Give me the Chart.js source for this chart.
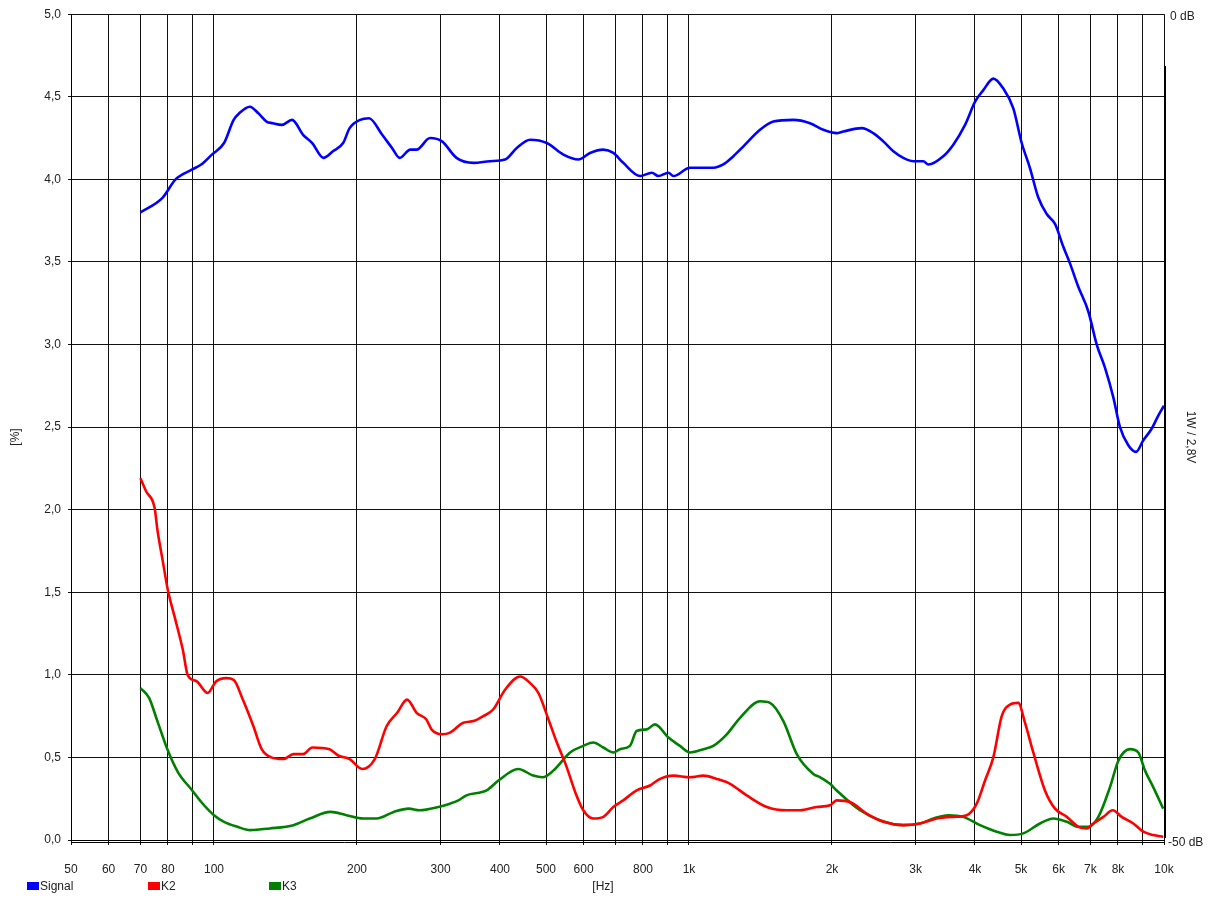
<!DOCTYPE html>
<html>
<head>
<meta charset="utf-8">
<title>Signal / K2 / K3</title>
<script src="https://cdn.jsdelivr.net/npm/chart.js@4/dist/chart.umd.min.js"></script>
<style>
    html, body { margin: 0; padding: 0; background: #fff; }
    #wrap { width: 1212px; height: 900px; }
</style>
</head>
<body>
<div id="wrap"><canvas id="distChart" width="1212" height="900"></canvas></div>
<script>
/* -----------------------------------------------
   Data
   ----------------------------------------------- */

const xTicks = [50, 60, 70, 80, 90, 100, 200, 300, 400, 500, 600, 700, 800, 900,
    1000, 2000, 3000, 4000, 5000, 6000, 7000, 8000, 9000, 10000];
const xTickLabels = ["50", "60", "70", "80", "", "100", "200", "300", "400", "500", "600", "", "800", "",
    "1k", "2k", "3k", "4k", "5k", "6k", "7k", "8k", "", "10k"];

const signalHz = [70, 78, 83, 90, 94, 99, 105, 110, 113, 119, 124, 129, 133, 139, 146, 154, 161, 170, 178, 187,
    193, 203, 212, 226, 237, 246, 259, 267, 285, 302, 324, 352, 381, 410, 434, 463, 502, 544, 585, 619,
    660, 693, 727, 789, 835, 862, 905, 927, 1005, 1125, 1181, 1240, 1302, 1411, 1505, 1658, 1798, 1918, 2046, 2113,
    2310, 2443, 2565, 2693, 2826, 2967, 3114, 3190, 3430, 3601, 3812, 4002, 4165, 4372, 4589, 4817, 5017, 5220, 5437, 5663,
    5896, 6141, 6342, 6600, 6929, 7217, 7511, 7822, 8078, 8411, 8732, 9046, 9418, 9727, 10000];
const signalPct = [3.80, 3.89, 4.00, 4.06, 4.09, 4.15, 4.22, 4.36, 4.40, 4.44, 4.40, 4.35, 4.34, 4.33, 4.36, 4.27, 4.22, 4.13, 4.17, 4.22,
    4.31, 4.36, 4.37, 4.27, 4.19, 4.13, 4.18, 4.18, 4.25, 4.23, 4.13, 4.10, 4.11, 4.12, 4.19, 4.24, 4.22, 4.15, 4.12, 4.16,
    4.18, 4.16, 4.10, 4.02, 4.04, 4.02, 4.04, 4.02, 4.07, 4.07, 4.09, 4.14, 4.20, 4.30, 4.35, 4.36, 4.34, 4.30, 4.28, 4.29,
    4.31, 4.28, 4.23, 4.17, 4.13, 4.11, 4.11, 4.09, 4.14, 4.21, 4.33, 4.47, 4.54, 4.61, 4.55, 4.43, 4.22, 4.07, 3.89, 3.79,
    3.73, 3.59, 3.49, 3.35, 3.20, 3.00, 2.86, 2.68, 2.50, 2.39, 2.35, 2.42, 2.49, 2.57, 2.63];

const k2Hz = [70, 72, 75, 76, 78, 80, 83, 86, 88, 92, 97, 101, 106, 110, 115, 121, 126, 132, 140, 147,
    154, 161, 175, 183, 193, 205, 218, 231, 243, 255, 267, 280, 287, 302, 314, 335, 352, 369, 387, 410,
    441, 463, 482, 506, 527, 553, 576, 599, 629, 660, 693, 727, 776, 828, 869, 927, 1005, 1072, 1144, 1220,
    1323, 1458, 1606, 1713, 1857, 1981, 2046, 2183, 2366, 2565, 2826, 3065, 3322, 3601, 3843, 4034, 4200, 4372, 4554, 4740,
    4935, 5097, 5307, 5615, 5896, 6242, 6600, 6876, 7098, 7455, 7800, 8146, 8618, 9046, 9491, 9963];
const k2Pct = [2.19, 2.11, 2.01, 1.88, 1.69, 1.51, 1.33, 1.15, 1.00, 0.96, 0.89, 0.96, 0.98, 0.97, 0.85, 0.69, 0.55, 0.50, 0.49, 0.52,
    0.52, 0.56, 0.55, 0.51, 0.49, 0.43, 0.49, 0.69, 0.77, 0.85, 0.77, 0.73, 0.67, 0.64, 0.65, 0.71, 0.72, 0.75, 0.79, 0.91,
    0.99, 0.95, 0.89, 0.73, 0.59, 0.44, 0.29, 0.18, 0.13, 0.14, 0.20, 0.24, 0.30, 0.33, 0.37, 0.39, 0.38, 0.39, 0.37, 0.34,
    0.27, 0.20, 0.18, 0.18, 0.20, 0.21, 0.24, 0.23, 0.16, 0.11, 0.09, 0.10, 0.13, 0.14, 0.15, 0.22, 0.36, 0.50, 0.75, 0.82,
    0.83, 0.71, 0.53, 0.30, 0.19, 0.14, 0.08, 0.07, 0.10, 0.14, 0.18, 0.14, 0.10, 0.05, 0.03, 0.02];

const k3Hz = [70, 73, 76, 80, 84, 90, 94, 100, 105, 112, 119, 131, 147, 159, 176, 190, 206, 220, 239, 257,
    271, 297, 314, 327, 340, 375, 397, 437, 470, 492, 518, 562, 599, 629, 660, 693, 716, 751, 776, 815,
    848, 905, 957, 1005, 1072, 1125, 1201, 1281, 1411, 1481, 1580, 1686, 1827, 1887, 1981, 2046, 2291, 2524, 2826, 3065,
    3268, 3514, 3780, 4099, 4444, 4740, 5056, 5482, 5847, 6242, 6600, 6929, 7274, 7697, 8016, 8479, 8828, 9122, 9491, 9963];
const k3Pct = [0.92, 0.86, 0.72, 0.54, 0.41, 0.30, 0.23, 0.15, 0.11, 0.08, 0.06, 0.07, 0.09, 0.13, 0.17, 0.15, 0.13, 0.13, 0.17, 0.19,
    0.18, 0.20, 0.22, 0.24, 0.27, 0.30, 0.36, 0.43, 0.39, 0.38, 0.42, 0.53, 0.57, 0.59, 0.56, 0.53, 0.55, 0.57, 0.66, 0.67,
    0.70, 0.62, 0.57, 0.53, 0.55, 0.57, 0.64, 0.74, 0.84, 0.83, 0.72, 0.52, 0.40, 0.38, 0.34, 0.30, 0.18, 0.12, 0.09, 0.10,
    0.13, 0.15, 0.14, 0.09, 0.05, 0.03, 0.04, 0.10, 0.13, 0.11, 0.08, 0.08, 0.14, 0.32, 0.48, 0.55, 0.53, 0.42, 0.32, 0.19];

const FONT = '"Liberation Sans", Arial, sans-serif';

function toPoints(hz, pct) {
    return hz.map((f, i) => ({ x: f, y: pct[i] }));
}

/* -----------------------------------------------
   Extra decorations (legend, axis units, dB side)
   ----------------------------------------------- */

const decorPlugin = {
    id: "decor",
    afterDraw(chart) {
        const c = chart.ctx;
        const a = chart.chartArea;
        c.save();

        // second baseline under the 0 line
        c.strokeStyle = "#000";
        c.lineWidth = 1;
        c.beginPath();
        c.moveTo(a.left, a.bottom + 2.5);
        c.lineTo(a.right, a.bottom + 2.5);
        c.stroke();

        // thick right bar
        c.lineWidth = 2;
        c.beginPath();
        c.moveTo(a.right + 1, 66);
        c.lineTo(a.right + 1, a.bottom - 2);
        c.stroke();

        c.fillStyle = "#222";
        c.font = "12px " + FONT;
        c.textBaseline = "middle";

        // dB labels
        c.textAlign = "left";
        c.fillText("0 dB", a.right + 6, a.top + 2);
        c.fillText("-50 dB", a.right + 4, a.bottom + 3);

        // x unit
        c.textAlign = "center";
        c.fillText("[Hz]", 603, 887);

        // y unit
        c.save();
        c.translate(16, 437);
        c.rotate(-Math.PI / 2);
        c.fillText("[%]", 0, 0);
        c.restore();

        // right side reference
        c.save();
        c.translate(1190, 437);
        c.rotate(Math.PI / 2);
        c.fillText("1W / 2,8V", 0, 0);
        c.restore();

        // legend
        const legendX = [27, 148, 269];
        c.textAlign = "left";
        chart.data.datasets.forEach((ds, i) => {
            c.fillStyle = ds.borderColor;
            c.fillRect(legendX[i], 882, 12, 8);
            c.fillStyle = "#222";
            c.fillText(ds.label, legendX[i] + 13, 887);
        });

        c.restore();
    }
};

/* -----------------------------------------------
   Chart
   ----------------------------------------------- */

document.addEventListener("DOMContentLoaded", function () {

    const ctx = document.getElementById("distChart");

    new Chart(ctx, {
        type: "line",

        data: {
            datasets: [
                { label: "Signal", data: toPoints(signalHz, signalPct), borderColor: "#0000FF" },
                { label: "K2", data: toPoints(k2Hz, k2Pct), borderColor: "#FF0000" },
                { label: "K3", data: toPoints(k3Hz, k3Pct), borderColor: "#008000" }
            ]
        },

        options: {
            responsive: false,
            animation: false,
            layout: { padding: { left: 0, right: 48, top: 13, bottom: 0 } },

            elements: {
                point: { radius: 0 },
                line: { borderWidth: 2.6, cubicInterpolationMode: "monotone", fill: false }
            },

            scales: {
                x: {
                    type: "logarithmic",
                    min: 50,
                    max: 10000,
                    afterBuildTicks: function (scale) {
                        scale.ticks = xTicks.map(v => ({ value: v }));
                    },
                    afterFit: function (scale) { scale.height = 60; },
                    ticks: {
                        autoSkip: false,
                        maxRotation: 0,
                        padding: 17,
                        color: "#222",
                        font: { size: 12, family: FONT },
                        callback: function (value, index) { return xTickLabels[index]; }
                    },
                    grid: { color: "#111", lineWidth: 1, tickLength: 5 },
                    border: { color: "#000" }
                },
                y: {
                    min: 0,
                    max: 5,
                    afterFit: function (scale) { scale.width = 71; },
                    ticks: {
                        stepSize: 0.5,
                        padding: 7,
                        color: "#222",
                        font: { size: 12, family: FONT },
                        callback: function (value) { return value.toFixed(1).replace(".", ","); }
                    },
                    grid: { color: "#111", lineWidth: 1, tickLength: 3 },
                    border: { color: "#000" }
                }
            },

            plugins: {
                legend: { display: false },
                tooltip: { enabled: false }
            }
        },

        plugins: [decorPlugin]
    });

});
</script>
</body>
</html>
